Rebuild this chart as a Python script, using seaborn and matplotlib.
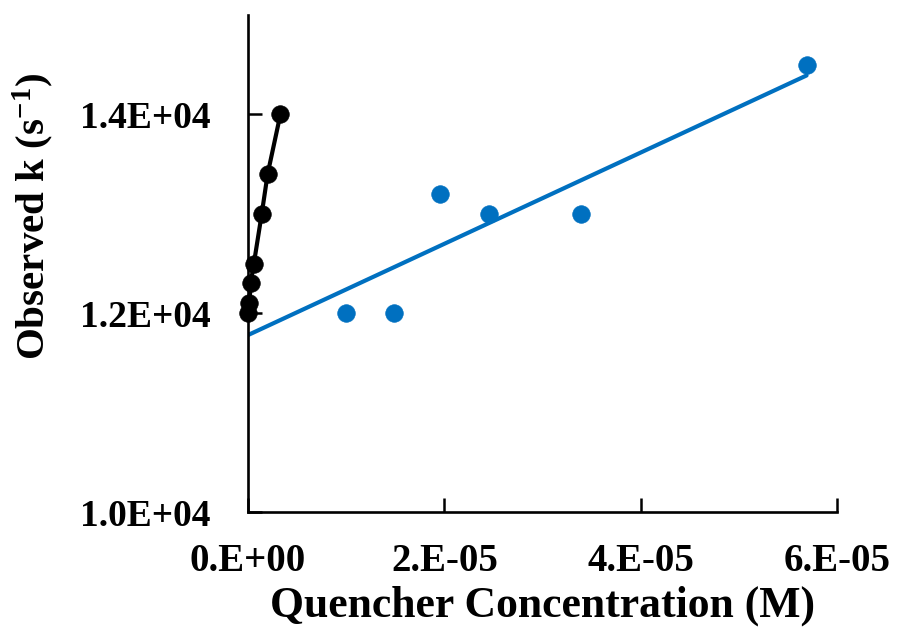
import numpy as np
import pandas as pd
import matplotlib
matplotlib.use("Agg")
import matplotlib.pyplot as plt
import seaborn as sns

# Data
black_x = [0.0, 0.15e-6, 0.27e-6, 0.60e-6, 1.40e-6, 2.00e-6, 3.30e-6]
black_y = [12000, 12100, 12300, 12500, 13000, 13400, 14000]
blue_x = [1.00e-5, 1.49e-5, 1.96e-5, 2.45e-5, 3.39e-5, 5.69e-5]
blue_y = [12000, 12000, 13200, 13000, 13000, 14500]
# trendline parameters
blue_fit_intercept = 11780
blue_fit_slope = 4.59e7
blue_fit_range = [0.0, 5.69e-5]

x_ticks = [0, 2e-5, 4e-5, 6e-5]
x_tick_labels = ["0.E+00", "2.E-05", "4.E-05", "6.E-05"]
y_ticks = [10000, 12000, 14000]
y_tick_labels = ["1.0E+04", "1.2E+04", "1.4E+04"]

sns.set_style("ticks")
plt.rcParams["font.family"] = ["Liberation Serif", "DejaVu Serif"]
plt.rcParams["font.weight"] = "bold"
plt.rcParams["text.color"] = "black"
plt.rcParams["xtick.color"] = "black"
plt.rcParams["ytick.color"] = "black"
plt.rcParams["axes.labelcolor"] = "black"
plt.rcParams["mathtext.fontset"] = "custom"
plt.rcParams["mathtext.rm"] = "Liberation Serif:bold"
plt.rcParams["mathtext.bf"] = "Liberation Serif:bold"
plt.rcParams["mathtext.it"] = "Liberation Serif:bold"

BLUE = "#0070C0"

fig = plt.figure(figsize=(8.97, 6.32), dpi=100)
ax = fig.add_axes([248 / 897, 1 - 512 / 632, (837 - 248) / 897, (512 - 15) / 632])

# black series: line through the points
sns.lineplot(x=black_x, y=black_y, ax=ax, color="black", linewidth=3.0,
             sort=True, estimator=None)
# blue trendline
fx = np.array(blue_fit_range)
sns.lineplot(x=fx, y=blue_fit_intercept + blue_fit_slope * fx, ax=ax,
             color=BLUE, linewidth=3.0)

sns.scatterplot(x=black_x, y=black_y, ax=ax, color="black", s=160,
                edgecolor="black", linewidth=0.5, zorder=5, clip_on=False)
sns.scatterplot(x=blue_x, y=blue_y, ax=ax, color=BLUE, s=160,
                edgecolor=BLUE, linewidth=0.5, zorder=5, clip_on=False)

ax.set_xlim(0, 6e-5)
ax.set_ylim(10000, 15000)
ax.set_xticks(x_ticks)
ax.set_xticklabels(x_tick_labels)
ax.set_yticks(y_ticks)
ax.set_yticklabels(y_tick_labels)
for lab in ax.get_xticklabels() + ax.get_yticklabels():
    lab.set_fontweight("bold")
ax.tick_params(axis="x", direction="in", length=10, width=1.8, pad=22, labelsize=28)
ax.tick_params(axis="y", direction="in", length=10, width=1.8, pad=27, labelsize=27)

sns.despine(ax=ax)
for s in ["left", "bottom"]:
    ax.spines[s].set_linewidth(1.9)
    ax.spines[s].set_color("black")

ax.set_xlabel("Quencher Concentration (M)", fontsize=31.5, fontweight="bold")
ax.set_ylabel(r"Observed k (s$^{-1}$)", fontsize=29.5, fontweight="bold")
ax.xaxis.set_label_coords(0.5, -0.189)
ax.yaxis.set_label_coords(-0.364, 0.594)
ax.xaxis.label.set_verticalalignment("center")
ax.yaxis.label.set_verticalalignment("center")

fig.savefig("out.png", dpi=100)
